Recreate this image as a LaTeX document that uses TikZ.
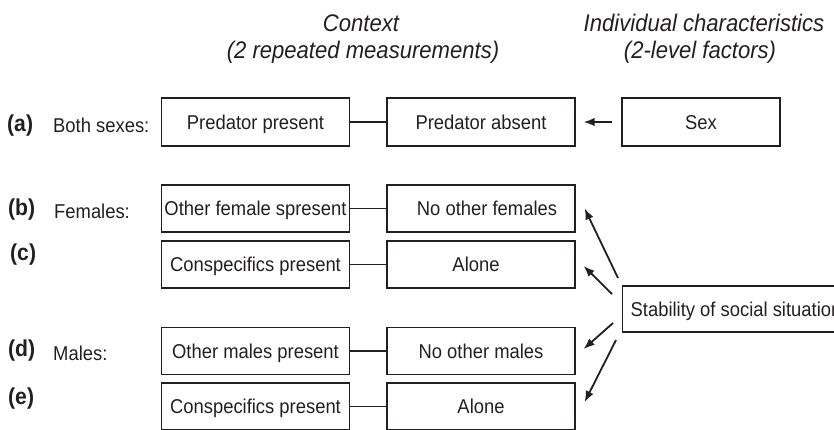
\documentclass[tikz,border=0pt]{standalone}
\usepackage{fontspec}
\setmainfont[FakeStretch=0.92]{Liberation Sans}
\usetikzlibrary{arrows.meta,calc}
\definecolor{ink}{RGB}{35,31,32}
\begin{document}
\begin{tikzpicture}[x=1pt,y=-1pt,
  every node/.style={text=ink},
  ctx/.style={draw=ink,line width=1.3pt,minimum width=188pt,minimum height=47pt,inner sep=0pt,
    text height=14.3pt,text depth=0pt,font=\fontsize{20}{24}\selectfont},
  sexbox/.style={ctx,minimum width=158pt,minimum height=48pt},
  lbl/.style={anchor=base west,inner sep=0pt,font=\fontsize{23}{26}\selectfont\bfseries},
  grp/.style={anchor=base west,inner sep=0pt,font=\fontsize{20}{24}\selectfont},
  hdr/.style={anchor=base,inner sep=0pt,font=\fontsize{24}{28}\selectfont\itshape},
  link/.style={draw=ink,line width=1.5pt},
  arr/.style={draw=ink,line width=1.8pt,-{Latex[length=11pt,width=8.5pt]}}]
\useasboundingbox (0,0) rectangle (834,429);
% headers
\node[hdr] (h1) at (361,31) {Context};
\node[hdr] (h2) at (363,58) {(2 repeated measurements)};
\node[hdr] (h3) at (704,31) {Individual characteristics};
\node[hdr] (h4) at (700,58) {(2-level factors)};
% row labels
\node[lbl] (la) at (7,131) {(a)};
\node[grp] (ga) at (53,132) {Both sexes:};
\node[lbl] (lb) at (8,215) {(b)};
\node[grp] (gb) at (54,218) {Females:};
\node[lbl] (lc) at (10,260) {(c)};
\node[lbl] (ld) at (8,356) {(d)};
\node[grp] (gd) at (53,360) {Males:};
\node[lbl] (le) at (8,404) {(e)};
% boxes
\node[ctx,minimum height=48pt] (pp) at (255.5,122) {Predator present};
\node[ctx,minimum height=48pt] (pa) at (481,122) {Predator absent};
\node[sexbox] (sex) at (701,122) {Sex};
\node[ctx] (of) at (255.5,208.5) {Other female spresent};
\node[ctx] (nf) at (481,208.5) {\hspace*{12pt}No other females};
\node[ctx] (c1) at (255.5,264.5) {Conspecifics present};
\node[ctx] (a1) at (481,264.5) {Alone\hspace*{10pt}};
\node[ctx] (om) at (255.5,351) {Other males present};
\node[ctx] (nm) at (481,351) {No other males};
\node[ctx] (c2) at (255.5,406.5) {Conspecifics present};
\node[ctx] (a2) at (481,406.5) {Alone};
\node[draw=ink,line width=1.3pt,anchor=west,minimum height=46pt,inner xsep=8pt,inner ysep=0pt,
  text height=14.3pt,text depth=0pt,font=\fontsize{20}{24}\selectfont] (stab) at (622,309) {Stability of social situation};
% connectors
\draw[link] (pp) -- (pa);
\draw[link] (of) -- (nf);
\draw[link] (c1) -- (a1);
\draw[link] (om) -- (nm);
\draw[link] (c2) -- (a2);
\draw[arr,shorten <=9pt,shorten >=8pt] (sex) -- (pa);
\coordinate (t1) at ($(stab.west)+(-4,-31)$);
\coordinate (t2) at ($(stab.west)+(-10,-15)$);
\coordinate (t3) at ($(stab.west)+(-9,14)$);
\coordinate (t4) at ($(stab.west)+(-6,31)$);
\draw[arr] (t1) -- ($(nf.east)+(9,0)$);
\draw[arr] (t2) -- ($(a1.east)+(8,1.5)$);
\draw[arr] (t3) -- ($(nm.east)+(8,-2)$);
\draw[arr] (t4) -- ($(a2.east)+(9,-4.5)$);
\end{tikzpicture}
\end{document}
